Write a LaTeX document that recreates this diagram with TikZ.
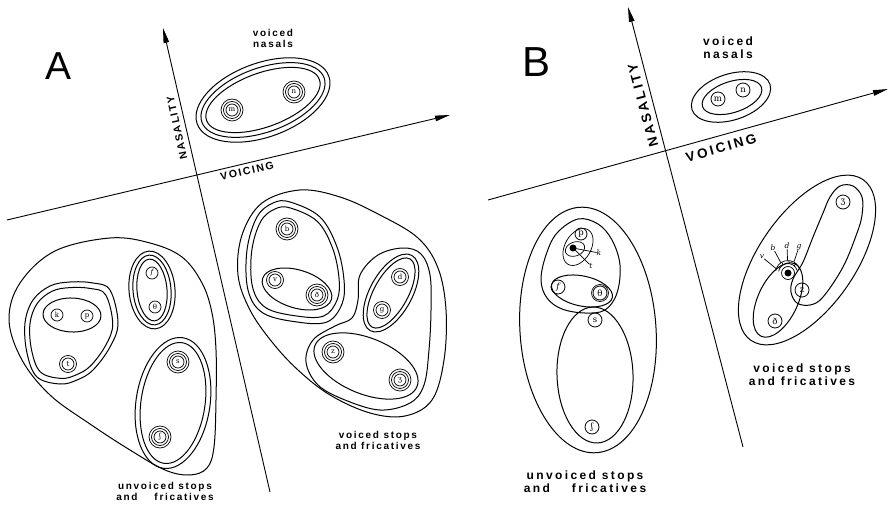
\documentclass[tikz,border=0pt]{standalone}
\usepackage{fontspec}
\setmainfont{Liberation Sans}
\usetikzlibrary{arrows.meta,calc}
\newfontfamily\lblA[LetterSpace=17]{Liberation Sans}
\newfontfamily\lblB[LetterSpace=20]{Liberation Sans}
\newfontfamily\capA[LetterSpace=16]{Liberation Sans}
\newfontfamily\capB[LetterSpace=19]{Liberation Sans}
\newfontfamily\phf{DejaVu Serif}
\begin{document}
\begin{tikzpicture}[x=1pt,y=-1pt,line join=round,
  cont/.style={line width=1pt},
  ring/.style={line width=0.7pt},
  axis/.style={line width=0.9pt,-{Triangle[length=15pt,width=5.5pt]}},
  pa/.style={circle,draw,line width=0.7pt,inner sep=0pt,minimum size=12pt,font=\phf\fontsize{7}{7}\selectfont},
  pb/.style={circle,draw,line width=0.8pt,inner sep=0pt,minimum size=14pt,font=\phf\fontsize{8.5}{9}\selectfont},
  tiny/.style={inner sep=0pt,font=\phf\itshape\fontsize{7.5}{8}\selectfont},
  labA/.style={font=\lblA\bfseries\fontsize{10}{11}\selectfont,align=center,inner sep=0pt},
  labB/.style={font=\lblB\bfseries\fontsize{12}{13}\selectfont,align=center,inner sep=0pt},
  axA/.style={font=\capA\bfseries\fontsize{10.5}{11}\selectfont,inner sep=0pt},
  axB/.style={font=\capB\bfseries\fontsize{13.5}{14}\selectfont,inner sep=0pt},
  big/.style={font=\fontsize{39}{39}\selectfont,inner sep=0pt},
]
\useasboundingbox (0,0) rectangle (889,505);

%================ PANEL A =================
\node[big] (lA) at (59,66) {A};
\coordinate (nAs) at (270,492); \coordinate (nAe) at (163,28);
\draw[axis] (nAs) -- (nAe);
\coordinate (vAs) at (7,220); \coordinate (vAe) at (450,115);
\draw[axis] (vAs) -- (vAe);
\node[axA,rotate=102.4] (nasA) at (177,128) {NASALITY};
\node[axA,rotate=13.3] (voiA) at (247,171) {VOICING};

% nasals A
\node[labA] (vnA) at (273,38) {voiced\\nasals};
\draw[cont,rotate around={20:(263,100)}] (263,100) ellipse (70pt and 37pt);
\draw[cont,rotate around={20:(263,100)}] (263,100) ellipse (65pt and 32pt);
\draw[cont,rotate around={20:(263,100)}] (263,100) ellipse (60pt and 27pt);
\node[pa] (Am) at (232,110) {m};
\draw[ring] (Am.center) circle (8.5pt) (Am.center) circle (11pt);
\node[pa] (An) at (294,92) {n};
\draw[ring] (An.center) circle (8.5pt) (An.center) circle (11pt);

% unvoiced A
\draw[cont] plot[smooth cycle,tension=0.6] coordinates {(110,238) (150,243) (182,257) (202,283) (212,313) (216,350) (216,400) (214,447) (207,468) (190,475) (165,470) (130,450) (90,424) (50,395) (22,360) (9,320) (20,283) (55,251)};
\draw[cont,shift={(70,333)}] plot[smooth cycle,tension=0.6] coordinates {(-45,-10) (-37,-33) (-20,-47) (0,-51) (23,-50) (40,-43) (48,-10) (40,14) (23,37) (7,47) (-10,51) (-33,44) (-43,20)};
\draw[cont,shift={(70,333)},scale=0.89] plot[smooth cycle,tension=0.6] coordinates {(-45,-10) (-37,-33) (-20,-47) (0,-51) (23,-50) (40,-43) (48,-10) (40,14) (23,37) (7,47) (-10,51) (-33,44) (-43,20)};
\draw[cont,rotate around={-2:(72,315)}] (72,315) ellipse (29pt and 17pt);
\node[pa] (Ak) at (57,315) {k};
\node[pa] (Ap) at (87,316) {p};
\node[pa] (At) at (68,364) {t};
\draw[ring] (At.center) circle (8.5pt);

\draw[cont,rotate around={5:(152,290)}] (152,290) ellipse (23pt and 39pt);
\draw[cont,rotate around={5:(152,290)}] (152,290) ellipse (19pt and 35pt);
\draw[cont,rotate around={5:(152,290)}] (152,290) ellipse (15pt and 31pt);
\node[pa] (Af) at (152,273) {\itshape f};
\node[pa] (Ath) at (155,307) {θ};

\draw[cont,rotate around={-8.6:(173,403)}] (173,403) ellipse (37pt and 66pt);
\draw[cont,rotate around={-8.6:(173,403)}] (173,403) ellipse (32pt and 61pt);
\node[pa] (As) at (178,362) {s};
\draw[ring] (As.center) circle (8.5pt) (As.center) circle (11pt);
\node[pa] (Ash) at (160,437) {ʃ};
\draw[ring] (Ash.center) circle (8.5pt) (Ash.center) circle (11pt);

\node[labA] (usA) at (165,491) {unvoiced stops\\and\hspace{17pt}fricatives};

% voiced A
\draw[cont] plot[smooth cycle,tension=0.6] coordinates {(300,190) (340,197) (380,215) (418,238) (438,268) (446,310) (444,360) (432,400) (405,416) (370,413) (330,395) (298,370) (272,342) (250,310) (238,275) (242,235) (262,203)};
\draw[cont,shift={(294,262)}] plot[smooth cycle,tension=0.6] coordinates {(-4,-60) (26,-45) (43,-15) (50,18) (48,42) (33,60) (3,60) (-31,51) (-46,28) (-47,-12) (-37,-45) (-21,-59)};
\draw[cont,shift={(294,262)},scale=0.9] plot[smooth cycle,tension=0.6] coordinates {(-4,-60) (26,-45) (43,-15) (50,18) (48,42) (33,60) (3,60) (-31,51) (-46,28) (-47,-12) (-37,-45) (-21,-59)};
\draw[cont,rotate around={-17:(297,289)}] (297,289) ellipse (36pt and 19pt);
\node[pa] (Ab) at (287,229) {b};
\draw[ring] (Ab.center) circle (8.5pt) (Ab.center) circle (11pt);
\node[pa] (Av) at (275,280) {v};
\draw[ring] (Av.center) circle (8.5pt);
\node[pa] (Adh) at (317,295) {ð};
\draw[ring] (Adh.center) circle (8.5pt) (Adh.center) circle (11pt);

\draw[cont] plot[smooth cycle,tension=0.6] coordinates {(403,248) (421,254) (430,275) (431,310) (429,350) (424,385) (410,403) (380,410) (345,400) (318,385) (306,362) (313,340) (335,326) (352,318) (358,300) (360,275) (378,255)};
\draw[cont,rotate around={-29:(391,293)}] (391,293) ellipse (21pt and 43pt);
\draw[cont,rotate around={-29:(391,293)}] (391,293) ellipse (17pt and 39pt);
\node[pa] (Ad) at (400,277) {d};
\draw[ring] (Ad.center) circle (8.5pt);
\node[pa] (Ag) at (382,310) {g};
\draw[ring] (Ag.center) circle (8.5pt);
\draw[cont,rotate around={-22:(366,366)}] (366,366) ellipse (55pt and 28pt);
\node[pa] (Az) at (333,352) {z};
\draw[ring] (Az.center) circle (8.5pt) (Az.center) circle (11pt);
\node[pa] (Azh) at (400,380) {ʒ};
\draw[ring] (Azh.center) circle (8.5pt) (Azh.center) circle (11pt);

\node[labA] (vsA) at (378,440) {voiced stops\\and fricatives};

%================ PANEL B =================
\node[big,font=\fontsize{42}{42}\selectfont] (lB) at (537,62) {B};
\coordinate (nBs) at (743,447); \coordinate (nBe) at (628,7);
\draw[axis] (nBs) -- (nBe);
\coordinate (vBs) at (488,200); \coordinate (vBe) at (888,89);
\draw[axis] (vBs) -- (vBe);
\node[axB,rotate=105] (nasB) at (643,105) {NASALITY};
\node[axB,rotate=15.5] (voiB) at (721,148) {VOICING};

% nasals B
\node[labB] (vnB) at (728,48) {voiced\\nasals};
\draw[cont,rotate around={18:(731,97)}] (731,97) ellipse (41pt and 23pt);
\draw[cont,rotate around={18:(732,97)}] (732,97) ellipse (31pt and 15.5pt);
\node[pb] (Bm) at (718,99) {m};
\node[pb] (Bn) at (743,90) {n};

% unvoiced B
\draw[cont,rotate around={4:(588,330)}] (588,330) ellipse (68pt and 123pt);
\draw[cont] plot[smooth cycle,tension=0.6] coordinates {(578,219) (598,224) (612,240) (620,265) (617,293) (605,310) (585,313) (562,309) (547,298) (541,280) (546,255) (557,233)};
\draw[cont,rotate around={-12:(582,291)}] (582,291) ellipse (31pt and 15pt);
\node[pb] (Bf) at (558,287) {\itshape f};
\node[pb] (Bth) at (600,293) {θ};
\draw[ring] (Bth.center) circle (8.5pt);
\draw[ring,rotate around={60:(578,247)}] (578,247) ellipse (20pt and 13pt);
\draw[ring,rotate around={20:(575,249)}] (575,249) ellipse (10pt and 7pt);
\node[pb,minimum size=12pt] (Bp) at (581,234) {p};
\fill (573,248) circle (3.5pt);
\coordinate (Bpd) at (573,248);
\node[tiny] (Bk) at (599,253) {k};
\node[tiny] (Bt) at (591,266) {t};
\draw[ring] (Bpd) -- (Bk);
\draw[ring] (Bpd) -- (Bt);
\draw[cont,rotate around={2:(595,375)}] (595,375) ellipse (38pt and 68pt);
\node[pb] (Bs) at (595,320) {s};
\node[pb] (Bsh) at (592,427) {ʃ};
\node[labB] (usB) at (585,482) {unvoiced stops\\and\hspace{22pt}fricatives};

% voiced B
\draw[cont,rotate around={55:(807,260)}] (807,260) ellipse (98pt and 48pt);
\draw[cont] plot[smooth cycle,tension=0.6] coordinates {(840,186) (853,186) (862,197) (862,215) (857,233) (843,267) (823,297) (810,305) (797,303) (791,292) (793,279) (803,262) (813,237) (823,213) (830,197)};
\draw[cont,rotate around={65:(778,300)}] (778,300) ellipse (40pt and 20pt);
\node[pb] (Bzh) at (843,202) {ʒ};
\node[pb] (Bz) at (802,290) {z};
\node[pb] (Bdh) at (775,321) {ð};
\coordinate (Bdot) at (788,273);
\fill (Bdot) circle (3.5pt);
\draw[ring] (Bdot) circle (6.5pt);
\draw[ring] ($(Bdot)+(15:9.5pt)$) arc[start angle=15,end angle=170,radius=9.5pt];
\draw[ring] ($(Bdot)+(15:12.5pt)$) arc[start angle=15,end angle=170,radius=12.5pt];
\foreach \a in {50,85,120,150}{\draw[ring] ($(Bdot)+(\a:9.5pt)$) -- ($(Bdot)+(\a:12.5pt)$);}
\node[tiny] (Blv) at (762,257) {v};
\node[tiny] (Blb) at (773,248) {b};
\node[tiny] (Bld) at (787,246) {d};
\node[tiny] (Blg) at (799,247) {g};
\draw[ring] ($(Bdot)+(160:12.5pt)$) -- (Blv);
\draw[ring] ($(Bdot)+(125:12.5pt)$) -- (Blb);
\draw[ring] ($(Bdot)+(92:12.5pt)$) -- (Bld);
\draw[ring] ($(Bdot)+(62:12.5pt)$) -- (Blg);
\node[labB] (vsB) at (802,375) {voiced stops\\and fricatives};
\end{tikzpicture}
\end{document}
